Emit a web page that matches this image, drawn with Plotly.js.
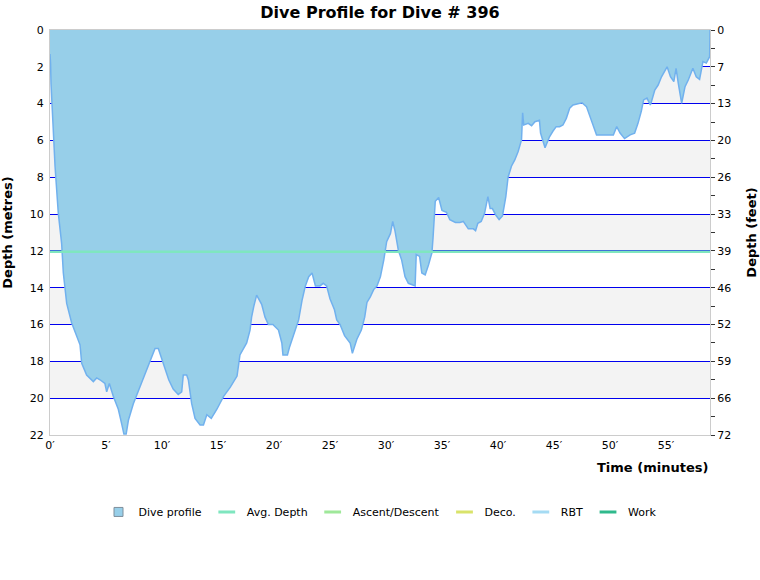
<!DOCTYPE html>
<html>
<head>
<meta charset="utf-8">
<script src="https://cdn.plot.ly/plotly-3.0.1.min.js"></script>
<style>html,body{margin:0;padding:0;background:#fff;}#chart{width:760px;height:580px;}</style>
</head>
<body>
<div id="chart"></div>
<script>
// ---- data ----
const timeMin = [0,0.05,0.09,0.24,0.45,0.74,1.04,1.19,1.49,1.93,2.38,2.68,2.83,3.27,3.87,4.17,4.46,4.9,5.06,5.3,5.65,6.1,6.4,6.6,6.8,7.0,7.44,8.04,8.63,9.08,9.38,9.67,10.1,10.6,11.0,11.45,11.76,11.9,12.2,12.35,12.65,12.95,13.4,13.7,14.0,14.4,14.9,15.5,16.1,16.7,16.96,17.56,17.86,18.0,18.2,18.45,18.9,19.2,19.5,19.9,20.4,20.7,20.8,21.2,21.4,21.9,22.2,22.5,22.8,23.1,23.4,23.7,24.1,24.4,24.7,25.0,25.4,25.6,25.9,26.3,26.8,27.0,27.4,27.8,28.1,28.3,28.6,28.9,29.2,29.5,29.8,30.06,30.4,30.6,30.8,31.1,31.4,31.7,32.0,32.4,32.6,32.7,33.0,33.2,33.5,33.8,34.1,34.2,34.3,34.4,34.7,35.0,35.4,35.7,36.2,36.6,36.9,37.35,37.8,38.0,38.2,38.5,38.8,39.1,39.3,39.5,39.8,40.1,40.4,40.7,40.9,41.2,41.5,41.8,42.1,42.2,42.3,42.7,43.0,43.3,43.7,43.8,44.2,44.6,44.9,45.2,45.5,45.8,46.1,46.4,46.7,47.5,47.9,48.2,48.5,48.8,49.3,49.7,50.3,50.6,50.9,51.3,51.8,52.2,52.5,52.8,53.0,53.3,53.6,53.7,54.0,54.3,54.6,55.1,55.4,55.7,55.9,56.1,56.4,56.7,57.0,57.4,57.7,58.0,58.3,58.6,58.9,58.93];
const depthM = [1.3,1.8,2.9,4.9,7.4,9.95,11.6,13.2,14.85,15.9,16.66,17.1,18.1,18.74,19.1,18.9,19.0,19.2,19.65,19.2,19.9,20.6,21.4,21.95,21.95,21.2,20.3,19.4,18.5,17.8,17.3,17.3,18.1,19.0,19.5,19.8,19.65,18.74,18.74,19.0,20.3,21.1,21.45,21.45,20.9,21.1,20.6,19.9,19.4,18.8,17.65,17.0,16.3,15.6,15.0,14.4,14.9,15.6,16.0,16.0,16.3,17.0,17.65,17.65,17.2,16.3,15.75,14.7,13.9,13.4,13.2,13.9,13.9,13.76,13.9,14.6,15.2,15.75,16.0,16.6,17.0,17.56,16.8,16.3,15.6,14.8,14.5,14.1,13.9,13.4,12.5,11.5,11.05,10.4,10.9,11.95,12.5,13.4,13.76,13.85,13.9,12.2,12.3,13.2,13.3,12.76,12.1,11.3,10.1,9.3,9.1,9.8,9.9,10.3,10.45,10.45,10.4,10.8,10.8,10.9,10.5,10.4,9.96,9.05,9.7,9.7,10.05,10.3,10.1,9.05,8.0,7.4,7.06,6.6,5.97,4.5,5.16,5.07,5.2,4.98,4.9,5.6,6.4,5.8,5.5,5.25,5.25,5.16,4.8,4.25,4.07,3.95,4.16,4.7,5.25,5.7,5.7,5.7,5.7,5.25,5.6,5.9,5.7,5.6,5.07,4.4,3.8,3.7,4.07,3.9,3.26,2.99,2.54,2.0,2.54,2.8,2.08,2.9,3.98,3.08,2.7,2.08,2.54,2.68,1.72,1.8,1.45,0];
const avgDepth = 12.05;
const diveEnd = 58.93;
const depthMax = 22;

// series present in the legend but with no recorded segments in this dive
const ascentDescent = [null];
const deco = [null];
const rbt = [null];
const work = [null];

const xTickVals = [0,5,10,15,20,25,30,35,40,45,50,55];
const xTickText = ["0′","5′","10′","15′","20′","25′","30′","35′","40′","45′","50′","55′"];
const mTickVals = [0,2,4,6,8,10,12,14,16,18,20,22];
const ftTickText = ["0","7","13","20","26","33","39","46","52","59","66","72"];
const ftMinorVals = [1,3,5,7,9,11,13,15,17,19,21];
const bandRanges = [[2,4],[6,8],[10,12],[14,16],[18,20]];

const legendNames = ["Avg. Depth","Ascent/Descent","Deco.","RBT","Work"];
const legendColors = ["#7fe6bf","#9fe89a","#d9e36a","#a5dbf3","#2fb98c"];
const emptySeries = [null, ascentDescent, deco, rbt, work];

// ---- traces ----
const traces = [{
  x: timeMin, y: depthM, type: 'scatter', mode: 'lines', name: 'Dive profile',
  fill: 'tozeroy', fillcolor: '#97cfe9', showlegend: false, legendgroup: 'dp',
  line: {color: '#71b1ee', width: 1.5}
},{
  // legend swatch for the dive profile area
  x: [null], y: [null], type: 'scatter', mode: 'markers', name: 'Dive profile', legendgroup: 'dp',
  marker: {symbol: 'square', size: 9, color: '#97cfe9', line: {color: '#7f8f9c', width: 1}}
},{
  x: [0, diveEnd], y: [avgDepth, avgDepth], type: 'scatter', mode: 'lines',
  name: legendNames[0], showlegend: false, legendgroup: 'avg',
  line: {color: legendColors[0], width: 2.5}
},{
  x: [null], y: [null], type: 'scatter', mode: 'markers', name: legendNames[0], legendgroup: 'avg',
  marker: {symbol: 'line-ew', size: 12, line: {color: legendColors[0], width: 3}}
}];
for (let i = 1; i < legendNames.length; i++) {
  traces.push({x: emptySeries[i], y: emptySeries[i], type: 'scatter', mode: 'markers', name: legendNames[i],
    marker: {symbol: 'line-ew', size: 12, line: {color: legendColors[i], width: 3}}});
}

const shapes = bandRanges.map(b => ({
  type: 'rect', xref: 'paper', yref: 'y', x0: 0, x1: 1, y0: b[0], y1: b[1],
  fillcolor: '#f3f3f3', line: {width: 0}, layer: 'below'
}));

const font = 'DejaVu Sans, Verdana, sans-serif';
const layout = {
  width: 760, height: 580,
  margin: {l: 50, r: 50, t: 30, b: 145},
  paper_bgcolor: '#fff', plot_bgcolor: '#fff',
  font: {family: font, size: 11, color: '#000'},
  title: {text: '<b>Dive Profile for Dive # 396</b>', font: {family: font, size: 16, color: '#000'},
          x: 0.5, xref: 'paper', y: 0.979, yanchor: 'middle'},
  showlegend: true,
  legend: {orientation: 'h', x: 0.5, xanchor: 'center', y: -0.19, yanchor: 'middle',
           font: {family: font, size: 11}, itemwidth: 30, traceorder: 'normal', itemclick: false},
  xaxis: {range: [0, diveEnd], tickmode: 'array', tickvals: xTickVals, ticktext: xTickText,
          showgrid: false, zeroline: false, showline: true, linecolor: '#cccccc', linewidth: 1,
          mirror: true, ticks: '', tickfont: {size: 11}},
  yaxis: {range: [depthMax, 0], tickmode: 'array', tickvals: mTickVals,
          showgrid: true, gridcolor: '#0000ee', gridwidth: 1, zeroline: false,
          showline: true, linecolor: '#cccccc', linewidth: 1, ticks: '', ticklabelstandoff: 3,
          title: {text: '<b>Depth (metres)</b>', font: {size: 13}, standoff: 14},
          tickfont: {size: 11}},
  yaxis2: {range: [depthMax, 0], overlaying: 'y', side: 'right', tickmode: 'array',
           tickvals: mTickVals, ticktext: ftTickText, showgrid: false, zeroline: false,
           showline: true, linecolor: '#cccccc', linewidth: 1, ticks: 'outside', ticklen: 4,
           tickcolor: '#333', minor: {tickmode: 'array', tickvals: ftMinorVals, ticks: 'outside', ticklen: 4, tickcolor: '#333', showgrid: false},
           title: {text: '<b>Depth (feet)</b>', font: {size: 13}, standoff: 16},
           tickfont: {size: 11}},
  shapes: shapes,
  annotations: [{text: '<b>Time (minutes)</b>', xref: 'paper', yref: 'paper', x: 1, y: 0,
    xanchor: 'right', yanchor: 'top', yshift: -23, showarrow: false, font: {family: font, size: 13}}]
};
traces.push({x: [0], y: [0], yaxis: 'y2', mode: 'markers', marker: {opacity: 0}, showlegend: false, hoverinfo: 'skip'});
Plotly.newPlot('chart', traces, layout, {displayModeBar: false, staticPlot: true});
</script>
</body>
</html>
